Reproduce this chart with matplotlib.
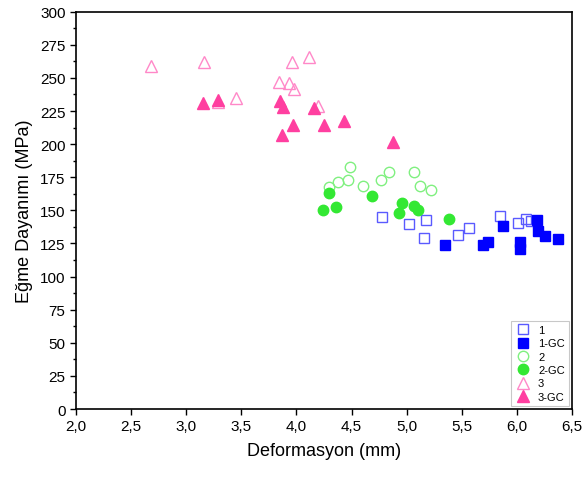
import matplotlib.pyplot as plt
from matplotlib.ticker import FuncFormatter, MultipleLocator

plt.rcParams['font.family'] = ['Liberation Sans', 'DejaVu Sans']

# series 1 (open squares) and 1-GC (filled squares)
x1 = [4.78, 5.02, 5.18, 5.16, 5.47, 5.57, 5.85, 6.01, 6.08, 6.13]
y1 = [145.0, 140.0, 142.7, 129.4, 131.4, 136.7, 145.8, 140.7, 143.5, 141.8]
x1gc = [5.35, 5.69, 5.74, 5.87, 6.03, 6.03, 6.18, 6.19, 6.26, 6.37]
y1gc = [123.9, 124.1, 125.9, 138.2, 125.9, 120.8, 143.0, 134.7, 130.7, 128.4]

# series 2 (open circles) and 2-GC (filled circles)
x2 = [4.49, 4.30, 4.38, 4.47, 4.60, 4.77, 4.84, 5.07, 5.12, 5.22]
y2 = [183.0, 167.9, 171.7, 173.2, 168.7, 173.0, 178.8, 178.8, 168.2, 165.6]
x2gc = [4.30, 4.24, 4.36, 4.69, 4.96, 4.93, 5.07, 5.10, 5.38]
y2gc = [162.9, 150.1, 152.6, 160.9, 155.4, 147.8, 153.1, 150.3, 143.5]

# series 3 (open triangles) and 3-GC (filled triangles)
x3 = [2.68, 3.16, 3.45, 3.96, 4.11, 3.84, 3.93, 3.98, 4.20, 3.29]
y3 = [258.8, 261.9, 234.7, 262.3, 265.6, 246.7, 246.0, 242.0, 229.0, 232.0]
x3gc = [3.15, 3.29, 3.85, 3.88, 3.87, 3.97, 4.16, 4.25, 4.43, 4.88]
y3gc = [230.9, 233.6, 232.4, 227.9, 207.2, 214.5, 227.3, 214.7, 217.5, 201.7]

fig = plt.figure(figsize=(5.86, 4.81), dpi=100)
ax = fig.add_axes([0.1297, 0.1476, 0.8463, 0.826])

ms = 7
ax.plot(x1, y1, 's', ls='none', ms=ms, mfc='none', mec='#5a5aff', mew=1.0, label='1')
ax.plot(x1gc, y1gc, 's', ls='none', ms=ms, color='#0000ff', label='1-GC')
ax.plot(x2, y2, 'o', ls='none', ms=ms + 0.5, mfc='none', mec='#80f080', mew=1.0, label='2')
ax.plot(x2gc, y2gc, 'o', ls='none', ms=ms + 0.5, color='#33e833', label='2-GC')
ax.plot(x3, y3, '^', ls='none', ms=ms + 1, mfc='none', mec='#ff88c8', mew=1.0, label='3')
ax.plot(x3gc, y3gc, '^', ls='none', ms=ms + 1, color='#ff3fa0', label='3-GC')

ax.set_xlim(2.0, 6.5)
ax.set_ylim(0, 300)
ax.xaxis.set_major_locator(MultipleLocator(0.5))
ax.yaxis.set_major_locator(MultipleLocator(25))
ax.yaxis.set_minor_locator(MultipleLocator(12.5))
ax.xaxis.set_major_formatter(FuncFormatter(lambda v, p: f'{v:.1f}'.replace('.', ',')))
ax.tick_params(axis='both', direction='out', labelsize=11, length=4, width=1)
ax.tick_params(axis='y', which='minor', direction='out', length=2.5, width=1)
for s in ax.spines.values():
    s.set_linewidth(1.2)

ax.set_xlabel('Deformasyon (mm)', fontsize=13, labelpad=6)
ax.set_ylabel('Eğme Dayanımı (MPa)', fontsize=13, labelpad=5)

leg = ax.legend(loc='lower right', fontsize=8, frameon=True, fancybox=False,
                edgecolor='#bbbbbb', borderpad=0.35, labelspacing=0.3,
                handletextpad=0.6, handlelength=1.5, borderaxespad=0.3)
leg.get_frame().set_linewidth(0.8)

fig.savefig('out.png', dpi=100)
